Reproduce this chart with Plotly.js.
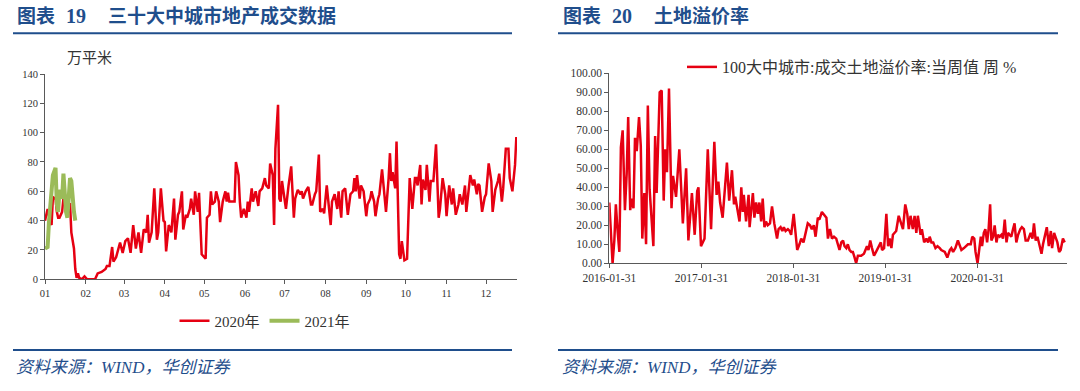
<!DOCTYPE html>
<html>
<head>
<meta charset="utf-8">
<script src="https://cdn.plot.ly/plotly-3.0.1.min.js"></script>
<style>
  html, body { margin: 0; padding: 0; background: #fff; }
  #chart { width: 1080px; height: 391px; }
</style>
</head>
<body>
<div id="chart"></div>
<script>
// ---------- Left chart: 30 large & medium cities property sales (万平米) ----------
// day offset from Jan 1 of the year
const salesDay2020 = [
  0,2,4,5,6,8,9,10,11,13,
  14,15,16,18,19,20,22,23,24,25,
  26,28,30,32,38,40,43,46,47,49,
  51,52,54,57,59,61,63,65,67,69,
  71,73,75,77,78,79,81,83,85,86,
  88,90,91,92,94,96,98,99,101,102,
  104,105,107,108,110,111,113,114,116,117,
  119,121,122,123,125,126,127,129,130,132,
  133,135,137,138,139,140,142,144,145,147,
  148,149,151,153,154,155,157,158,160,162,
  163,165,167,168,170,171,173,174,175,177,
  178,179,180,182,183,185,187,189,190,192,
  194,195,196,198,200,202,203,205,206,208,
  209,211,212,214,215,217,218,220,222,223,
  225,226,228,230,232,234,235,236,237,239,
  240,242,244,245,247,248,250,251,253,254,
  256,257,259,261,262,263,264,266,267,269,
  270,271,273,275,277,279,281,282,283,285,
  286,287,289,290,292,293,295,297,299,300,
  302,304,305,307,309,310,312,314,315,317,
  319,320,322,323,325,326,328,329,330,332,
  334,335,337,339,340,342,344,345,347,348,
  350,352,353,355,357,358
];
const sales2020 = [
  40,48,39,37,56,55,46,42,42,46,
  55,57,48,46,52,32,21,7,1,4,
  1,0,2,0,0,4,5,7,9,9,
  22,12,15,25,18,26,28,18,37,21,
  32,18,34,32,44,25,32,62,27,32,
  62,40,39,19,37,32,55,27,44,46,
  60,34,44,42,48,55,44,60,46,59,
  17,15,14,42,44,60,51,53,60,53,
  39,53,60,53,59,53,53,53,80,71,
  53,42,48,42,53,46,62,53,60,50,
  60,62,69,64,62,79,71,37,89,119,
  55,53,67,52,48,64,77,42,55,61,
  58,60,55,60,63,51,51,58,60,85,
  46,48,45,64,55,37,53,58,48,60,
  42,60,62,44,58,60,69,60,71,55,
  64,60,43,51,55,60,53,43,55,58,
  75,64,46,69,86,67,73,62,94,17,
  14,26,13,14,69,48,69,69,64,78,
  51,68,61,78,53,67,67,92,42,48,
  69,58,43,64,51,62,44,51,58,51,
  64,46,65,71,64,68,58,65,64,46,
  56,58,79,67,46,61,67,72,53,62,
  89,89,69,60,78,97
];
const salesDay2021 = [0,2,3,5,6,8,9,10,11,13,14,16,17,19,20,22,23];
const sales2021    = [21,22,39,62,71,76,51,46,61,55,72,46,42,69,67,46,40];
const seriesNames = ['2020年', '2021年'];

// ---------- Right chart: land premium rate (%) ----------
// day offset from 2016-01-31
const premDay = [
  0,4,13,20,26,33,40,46,53,62,
  69,75,83,88,96,102,109,118,125,131,
  139,146,153,160,167,175,182,188,200,208,
  216,222,229,237,247,253,265,278,292,305,
  314,328,339,349,354,364,378,391,404,417,
  426,433,440,450,467,476,487,495,500,517,
  524,530,534,543,553,557,570,576,583,590,
  596,603,609,616,622,629,638,646,655,666,
  672,680,687,693,700,709,716,722,732,738,
  746,755,762,771,779,788,797,804,812,819,
  828,834,844,851,862,868,876,884,892,901,
  908,914,921,928,934,941,947,954,961,967,
  974,980,987,994,1000,1011,1016,1023,1029,1036,
  1043,1051,1059,1067,1078,1083,1091,1100,1107,1113,
  1120,1126,1133,1139,1149,1157,1166,1175,1183,1189,
  1196,1205,1212,1219,1225,1236,1241,1250,1259,1266,
  1272,1279,1286,1295,1303,1312,1318,1332,1342,1352,
  1358,1365,1374,1384,1391,1398,1408,1417,1424,1435,
  1441,1449,1454,1462,1467,1475,1480,1487,1493,1500,
  1506,1512,1517,1524,1530,1537,1543,1550,1557,1563,
  1570,1577,1583,1590,1596,1603,1609,1616,1623,1632,
  1638,1646,1653,1662,1673,1680,1686,1693,1700,1709,
  1716,1722,1729,1737,1745,1753,1758,1766,1771,1779,
  1786,1792,1801,1808
];
const premValue = [
  32,22,0,12,31,17,6,61,70,28,
  47,77,28,34,29,66,59,77,62,13,
  37,10,83,39,25,9,67,37,90,91,
  33,60,48,92,29,46,35,60,21,50,
  12,37,15,38,40,9,13,60,18,64,
  36,43,32,24,53,33,49,31,35,22,
  40,27,36,22,36,19,37,24,32,26,
  32,22,34,19,22,20,21,30,21,13,
  18,19,17,19,17,18,17,15,26,17,
  7,10,13,11,15,21,20,18,20,14,
  24,23,27,26,24,13,18,13,14,13,
  9,7,11,12,9,8,10,7,6,6,
  3,0,4,4,4,5,7,9,7,12,
  8,4,6,8,11,7,8,26,9,13,
  8,15,16,17,25,22,18,31,26,18,
  25,18,25,16,25,15,18,11,13,11,
  14,11,11,8,9,8,7,6,3,7,
  8,6,8,12,9,7,8,9,10,10,
  14,13,6,0,5,14,9,16,18,11,
  18,31,12,14,20,11,15,14,15,13,
  23,11,16,15,14,18,21,11,15,18,
  19,18,12,12,16,13,21,12,14,9,
  5,10,14,19,9,17,8,16,14,11,
  6,7,13,11
];
const premName = '100大中城市:成交土地溢价率:当周值 周 %';
const premTickLabels = ['2016-01-31','2017-01-31','2018-01-31','2019-01-31','2020-01-31'];

// ---------- helpers ----------
function offsetDate(y, m, d, add) {
  const t = Date.UTC(y, m, d) + add * 86400000;
  return new Date(t).toISOString().slice(0, 10);
}

const W = 1080, H = 391;
const px = v => v / W;
const py = v => (H - v) / H;

const RED = '#E60012';
const GREEN = '#9BBB59';
const BLUE = '#1F4E8C';
const SERIF = '"Liberation Serif", "Noto Sans CJK SC", serif';

const traces = [
  {
    x: salesDay2020.map(d => offsetDate(2020, 0, 1, d)),
    y: sales2020, name: seriesNames[0], type: 'scatter', mode: 'lines',
    line: { color: RED, width: 2.5 }, xaxis: 'x', yaxis: 'y', legend: 'legend'
  },
  {
    x: salesDay2021.map(d => offsetDate(2020, 0, 1, d)),
    y: sales2021, name: seriesNames[1], type: 'scatter', mode: 'lines',
    line: { color: GREEN, width: 4 }, xaxis: 'x', yaxis: 'y', legend: 'legend'
  },
  {
    x: premDay.map(d => offsetDate(2016, 0, 31, d)),
    y: premValue, name: premName, type: 'scatter', mode: 'lines',
    line: { color: RED, width: 2.5 }, xaxis: 'x2', yaxis: 'y2', legend: 'legend2'
  }
];

const axisCommon = {
  showline: true, linecolor: '#595959', linewidth: 1,
  ticks: 'outside', tickcolor: '#595959', ticklen: 4, tickwidth: 1,
  showgrid: false, zeroline: false, fixedrange: true
};

const layout = {
  width: W, height: H,
  margin: { l: 0, r: 0, t: 0, b: 0 },
  paper_bgcolor: '#fff', plot_bgcolor: '#fff',
  showlegend: true,
  xaxis: Object.assign({}, axisCommon, {
    type: 'date', domain: [px(45), px(517)], anchor: 'y',
    range: ['2020-01-01', '2020-12-24 12:00'],
    tick0: '2020-01-01', dtick: 'M1', tickformat: '%m',
    tickfont: { family: SERIF, size: 10.5, color: '#333' }
  }),
  yaxis: Object.assign({}, axisCommon, {
    domain: [py(279.3), py(74)], anchor: 'x',
    range: [0, 140], dtick: 20,
    tickfont: { family: SERIF, size: 10.5, color: '#333' }
  }),
  xaxis2: Object.assign({}, axisCommon, {
    type: 'date', domain: [px(609.3), px(1066.7)], anchor: 'y2',
    range: ['2016-01-31', '2021-01-20'],
    tickmode: 'array',
    tickvals: premTickLabels, ticktext: premTickLabels,
    tickfont: { family: SERIF, size: 11.5, color: '#333' }
  }),
  yaxis2: Object.assign({}, axisCommon, {
    domain: [py(263.3), py(73.3)], anchor: 'x2',
    range: [0, 100], dtick: 10, tickformat: '.2f',
    tickfont: { family: SERIF, size: 11.5, color: '#333' }
  }),
  legend: {
    orientation: 'h', x: px(265), xanchor: 'center', y: py(321), yanchor: 'middle',
    font: { family: SERIF, size: 15, color: '#333' },
    bgcolor: 'rgba(0,0,0,0)', itemwidth: 30, tracegroupgap: 0
  },
  legend2: {
    orientation: 'h', x: px(682), xanchor: 'left', y: py(67), yanchor: 'middle',
    font: { family: SERIF, size: 16, color: '#333' },
    bgcolor: 'rgba(0,0,0,0)', itemwidth: 30
  },
  shapes: [
    { type: 'line', xref: 'paper', yref: 'paper', x0: px(13), x1: px(512), y0: py(33.3), y1: py(33.3), line: { color: BLUE, width: 2 } },
    { type: 'line', xref: 'paper', yref: 'paper', x0: px(558), x1: px(1058), y0: py(33.3), y1: py(33.3), line: { color: BLUE, width: 2 } },
    { type: 'line', xref: 'paper', yref: 'paper', x0: px(13), x1: px(512), y0: py(350), y1: py(350), line: { color: BLUE, width: 2 } },
    { type: 'line', xref: 'paper', yref: 'paper', x0: px(558), x1: px(1058), y0: py(350), y1: py(350), line: { color: BLUE, width: 2 } }
  ],
  annotations: [
    { text: '<b>图表</b>', xref: 'paper', yref: 'paper', x: px(15), y: py(16), xanchor: 'left', yanchor: 'middle', showarrow: false,
      font: { family: SERIF, size: 19, color: BLUE } },
    { text: '<b>19</b>', xref: 'paper', yref: 'paper', x: px(64), y: py(16), xanchor: 'left', yanchor: 'middle', showarrow: false,
      font: { family: SERIF, size: 20, color: BLUE } },
    { text: '<b>三十大中城市地产成交数据</b>', xref: 'paper', yref: 'paper', x: px(106), y: py(16), xanchor: 'left', yanchor: 'middle', showarrow: false,
      font: { family: SERIF, size: 19, color: BLUE } },
    { text: '<b>图表</b>', xref: 'paper', yref: 'paper', x: px(561), y: py(16), xanchor: 'left', yanchor: 'middle', showarrow: false,
      font: { family: SERIF, size: 19, color: BLUE } },
    { text: '<b>20</b>', xref: 'paper', yref: 'paper', x: px(610), y: py(16), xanchor: 'left', yanchor: 'middle', showarrow: false,
      font: { family: SERIF, size: 20, color: BLUE } },
    { text: '<b>土地溢价率</b>', xref: 'paper', yref: 'paper', x: px(652), y: py(16), xanchor: 'left', yanchor: 'middle', showarrow: false,
      font: { family: SERIF, size: 19, color: BLUE } },
    { text: '万平米', xref: 'paper', yref: 'paper', x: px(65), y: py(58), xanchor: 'left', yanchor: 'middle', showarrow: false,
      font: { family: SERIF, size: 15, color: '#333' } },
    { text: '<i>资料来源：WIND，华创证券</i>', xref: 'paper', yref: 'paper', x: px(14), y: py(367), xanchor: 'left', yanchor: 'middle', showarrow: false,
      font: { family: SERIF, size: 17, color: BLUE } },
    { text: '<i>资料来源：WIND，华创证券</i>', xref: 'paper', yref: 'paper', x: px(560), y: py(367), xanchor: 'left', yanchor: 'middle', showarrow: false,
      font: { family: SERIF, size: 17, color: BLUE } }
  ]
};

Plotly.newPlot('chart', traces, layout, { staticPlot: true, displayModeBar: false });
</script>
</body>
</html>
